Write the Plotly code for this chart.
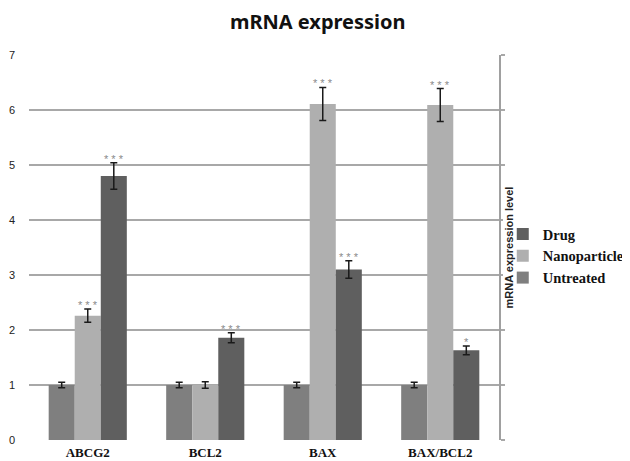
import plotly.graph_objects as go

categories = ["ABCG2", "BCL2", "BAX", "BAX/BCL2"]
series_names = ["Untreated", "Nanoparticle", "Drug"]
untreated = [1.0, 1.0, 1.0, 1.0]
untreated_err = [0.05, 0.05, 0.05, 0.05]
nanoparticle = [2.26, 1.0, 6.11, 6.09]
nanoparticle_err = [0.12, 0.06, 0.30, 0.30]
drug = [4.80, 1.86, 3.10, 1.63]
drug_err = [0.24, 0.09, 0.16, 0.08]
untreated_sig = ["", "", "", ""]
nanoparticle_sig = ["* * *", "", "* * *", "* * *"]
drug_sig = ["* * *", "* * *", "* * *", "*"]
y_ticks = [0, 1, 2, 3, 4, 5, 6, 7]

colors = {"Untreated": "#7f7f7f", "Nanoparticle": "#afafaf", "Drug": "#5f5f5f"}
values = [untreated, nanoparticle, drug]
errors = [untreated_err, nanoparticle_err, drug_err]
sigs = [untreated_sig, nanoparticle_sig, drug_sig]

fig = go.Figure()
for name, vals, errs in zip(series_names, values, errors):
    fig.add_trace(go.Bar(
        name="<b>" + name + "</b>", x=categories, y=vals,
        marker=dict(color=colors[name], line=dict(width=0)),
        error_y=dict(type="data", array=errs, visible=True,
                     color="#1a1a1a", thickness=1.5, width=3.5),
    ))

# invisible trace to enable right-side axis
fig.add_trace(go.Scatter(x=[categories[0]], y=[None], yaxis="y2",
                         showlegend=False, hoverinfo="skip", mode="markers"))

bargap = 0.335
w = (1 - bargap) / len(series_names)
annotations = []
for j, (vals, errs, sg) in enumerate(zip(values, errors, sigs)):
    for i, (v, e, s) in enumerate(zip(vals, errs, sg)):
        if s:
            annotations.append(dict(
                x=i + (j - 1) * w, y=v + e, xref="x", yref="y", text=s,
                showarrow=False, yanchor="bottom", yshift=-4,
                font=dict(family="Liberation Sans", size=11, color="#8a8a8a")))

# the page body adds an 8px offset, so the figure is sized to fill the rest
fig.update_layout(
    width=622, height=453,
    margin=dict(l=21, r=131, t=47, b=21, autoexpand=False),
    paper_bgcolor="white", plot_bgcolor="white",
    barmode="group", bargap=bargap, bargroupgap=0,
    title=dict(text="<b>mRNA expression</b>", x=0.498, xanchor="center",
               y=0.969, yanchor="middle",
               font=dict(family="Noto Sans", size=20, color="#111111")),
    xaxis=dict(showgrid=False, showline=False, zeroline=False, ticks="",
               tickfont=dict(family="Liberation Serif", size=13, color="#111111"),
               ticklabelstandoff=3, tickprefix="<b>", ticksuffix="</b>"),
    yaxis=dict(range=[0, 7], tickvals=y_ticks, showgrid=True,
               gridcolor="#a8a8a8", gridwidth=1.5, zeroline=False,
               showline=False, ticks="", ticklabelstandoff=13,
               tickfont=dict(family="Liberation Sans", size=11, color="#222222")),
    yaxis2=dict(range=[0, 7], tickvals=y_ticks, overlaying="y", side="right",
                showgrid=False, zeroline=False, showline=True,
                linecolor="#a0a0a0", linewidth=1.5, ticks="outside",
                ticklen=4, tickwidth=1.5, tickcolor="#a8a8a8",
                showticklabels=False,
                title=dict(text="<b>mRNA expression level</b>", standoff=2,
                           font=dict(family="Liberation Sans", size=11, color="#222222"))),
    legend=dict(x=1.008, xanchor="left", y=0.478, yanchor="middle",
                traceorder="reversed", tracegroupgap=0,
                font=dict(family="Liberation Serif", size=14.5, color="#111111"),
                itemwidth=30),
    annotations=annotations,
    showlegend=True,
)

fig.write_html("out.html")
